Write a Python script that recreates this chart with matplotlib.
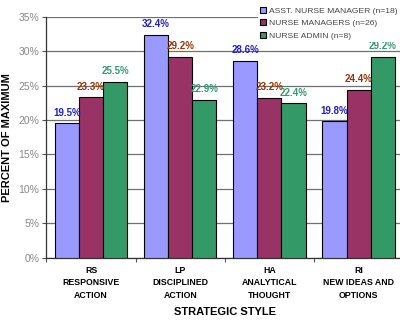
import numpy as np
import matplotlib.pyplot as plt
from matplotlib.ticker import FuncFormatter

plt.rcParams['font.family'] = ['Liberation Sans', 'DejaVu Sans']

categories = ["RS\nRESPONSIVE\nACTION", "LP\nDISCIPLINED\nACTION",
              "HA\nANALYTICAL\nTHOUGHT", "RI\nNEW IDEAS AND\nOPTIONS"]
series = ["ASST. NURSE MANAGER (n=18)", "NURSE MANAGERS (n=26)", "NURSE ADMIN (n=8)"]
asst = [19.5, 32.4, 28.6, 19.8]
mgrs = [23.3, 29.2, 23.2, 24.4]
admin = [25.5, 22.9, 22.4, 29.2]

bar_colors = ["#9999FF", "#993366", "#339966"]
label_colors = ["#1F1FCC", "#993300", "#339977"]

fig = plt.figure(figsize=(4.0, 3.22), dpi=100)
ax = fig.add_axes([0.116, 0.2, 0.892, 0.748])

x = np.arange(len(categories))
w = 0.27
for i, (vals, name) in enumerate(zip([asst, mgrs, admin], series)):
    pos = x + (i - 1) * w
    ax.bar(pos, vals, w, color=bar_colors[i], edgecolor="black", linewidth=0.8,
           label=name, zorder=3)
    for p, v in zip(pos, vals):
        ax.text(p, v + 1.55, f"{v:.1f}%", ha="center", va="center", fontsize=7,
                fontweight="bold", color=label_colors[i], zorder=4)

ax.set_xlim(-0.5, len(categories) - 0.5)
ax.set_ylim(0, 35)
ax.set_yticks(np.arange(0, 36, 5))
ax.yaxis.set_major_formatter(FuncFormatter(lambda v, _: f"{v:.0f}%"))
ax.yaxis.grid(True, color="#707070", linewidth=0.9, zorder=0)
ax.tick_params(axis="y", labelsize=7.5, colors="#555555", length=3, width=0.8,
               labelcolor="#888888", pad=2)
ax.set_xticks(np.arange(len(categories) + 1) - 0.5)
ax.set_xticklabels([])
ax.set_xticks(x, minor=True)
ax.set_xticklabels(categories, minor=True, fontsize=6.3, fontweight="bold",
                   linespacing=1.5)
ax.tick_params(axis="x", which="major", length=3, width=0.8, colors="#555555")
ax.tick_params(axis="x", which="minor", length=0, pad=6)

for s in ["top", "right"]:
    ax.spines[s].set_visible(False)
for s in ["left", "bottom"]:
    ax.spines[s].set_color("#333333")
    ax.spines[s].set_linewidth(0.9)

ax.set_ylabel("PERCENT OF MAXIMUM", fontsize=8, fontweight="bold", labelpad=5)
ax.set_xlabel("STRATEGIC STYLE", fontsize=8, fontweight="bold", labelpad=5)

leg = ax.legend(loc="upper left", bbox_to_anchor=(0.58, 1.07), fontsize=6.1,
                frameon=True, fancybox=False, framealpha=1, edgecolor="white",
                handlelength=0.7, handleheight=0.7, handletextpad=0.4,
                labelspacing=0.55, borderpad=0.3)
leg.get_frame().set_linewidth(0)
for t in leg.get_texts():
    t.set_color("#444444")
leg.set_zorder(5)

fig.savefig("out.png", dpi=100)
